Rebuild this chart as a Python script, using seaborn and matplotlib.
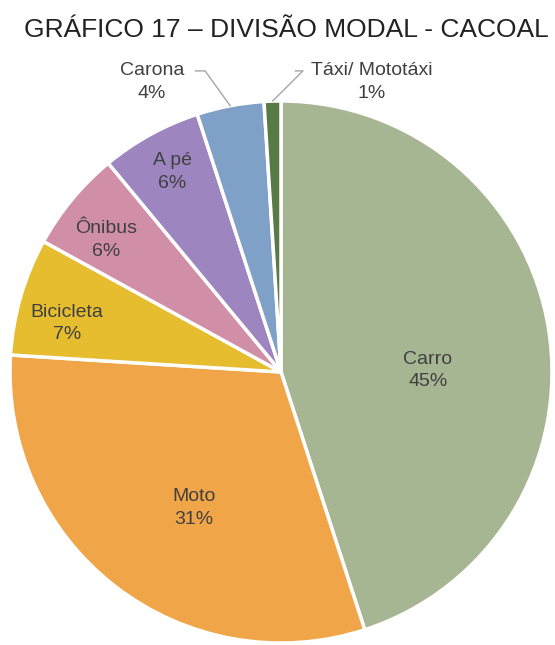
import matplotlib
matplotlib.use("Agg")
import matplotlib.pyplot as plt
import seaborn as sns
import numpy as np

sns.set_theme(style="white")
plt.rcParams["font.family"] = ["Liberation Sans", "DejaVu Sans"]

categories = ["Carro", "Moto", "Bicicleta", "Ônibus", "A pé", "Carona", "Táxi/ Mototáxi"]
shares = [45, 31, 7, 6, 6, 4, 1]
colors = ["#a6b592", "#f0a548", "#e5bd2f", "#d08fa6", "#9d86c0", "#7fa0c7", "#587a45"]

W, H, DPI = 555, 645, 100
fig = plt.figure(figsize=(W / DPI, H / DPI), dpi=DPI)

cx, cy, r = 281, 372, 271
ax = fig.add_axes([(cx - r) / W, 1 - (cy + r) / H, 2 * r / W, 2 * r / H])

wedges, _ = ax.pie(shares, colors=colors, startangle=90, counterclock=False,
                   radius=1, wedgeprops=dict(edgecolor="white", linewidth=2.5))
ax.set_xlim(-1, 1)
ax.set_ylim(-1, 1)
ax.set_axis_off()
for w in wedges:
    w.set_clip_on(False)

text_kw = dict(fontsize=14, color="#404040", ha="center", va="center",
               linespacing=1.4)

# label anchor for each slice, in units of the pie radius
label_pos = {
    "Carro": (0.542, 0.007),
    "Moto": (-0.321, -0.502),
    "Bicicleta": (-0.79, 0.18),
    "Ônibus": (-0.646, 0.487),
    "A pé": (-0.402, 0.738),
    "Carona": (-0.476, 1.07),
    "Táxi/ Mototáxi": (0.336, 1.07),
}
# leader lines (horizontal stub) for labels placed outside the pie
leader_stub = {"Carona": (-0.317, -0.280), "Táxi/ Mototáxi": (0.052, 0.081)}
stub_y = 1.111

for w, name, v in zip(wedges, categories, shares):
    tx, ty = label_pos[name]
    ax.text(tx, ty, f"{name}\n{v}%", clip_on=False, **text_kw)
    if name in leader_stub:
        mid = np.deg2rad((w.theta1 + w.theta2) / 2)
        ex, ey = np.cos(mid), np.sin(mid)
        x0, x1 = leader_stub[name]
        ax.plot([x0, x1, ex], [stub_y, stub_y, ey], color="#a6a6a6", lw=1,
                clip_on=False, zorder=5)

fig.text(286 / W, 1 - 30 / H, "GRÁFICO 17 – DIVISÃO MODAL - CACOAL",
         ha="center", va="center", fontsize=19, color="#222222")

fig.savefig("out.png", dpi=DPI)
